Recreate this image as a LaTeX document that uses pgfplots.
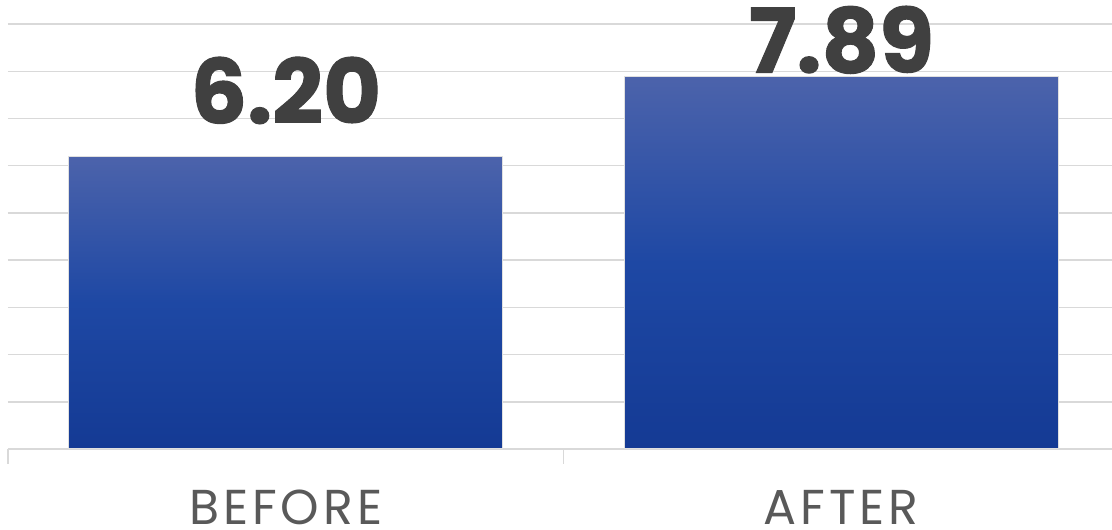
\documentclass[border=0pt]{standalone}
\usepackage{fontspec}
\setmainfont{Poppins}
\newfontfamily\numfont[BoldFeatures={FakeBold=1.2}]{Poppins}
\usepackage{pgfplots}
\pgfplotsset{compat=1.18}
\definecolor{gridc}{HTML}{D9D9D9}
\definecolor{lab}{HTML}{595959}
\definecolor{num}{HTML}{404040}
\definecolor{bartop}{HTML}{4C63AB}
\definecolor{barmid}{HTML}{1E48A4}
\definecolor{barbot}{HTML}{143A94}
\begin{document}
\begin{tikzpicture}
\begin{axis}[
  at={(0,0)}, anchor=south west,
  scale only axis, width=1104pt, height=449pt,
  xmin=-0.5, xmax=1.487, ymin=0, ymax=9.51,
  ybar, bar width=434pt, bar shift=0pt,
  axis x line*=bottom, axis y line*=left,
  y axis line style={draw=none},
  x axis line style={gridc, line width=1.5pt},
  ytick={1,2,...,9}, yticklabels={}, ytick style={draw=none},
  ymajorgrids, major grid style={gridc, line width=1.5pt},
  xtick={0,1}, xticklabels={BEFORE,AFTER},
  major x tick style={draw=none},
  minor xtick={-0.5,0.5,1.5}, minor tick length=15pt, tick align=outside,
  minor x tick style={gridc, line width=1.5pt},
  xticklabel style={anchor=base, inner sep=0pt, yshift=-71pt, font=\fontsize{49}{58}\selectfont\addfontfeature{LetterSpace=8}, text=lab},
  /pgf/number format/fixed, /pgf/number format/fixed zerofill,
  /pgf/number format/precision=2, /pgf/number format/assume math mode=true,
  clip=false,
]
\addplot[draw=black!12, line width=1pt, top color=bartop, bottom color=barbot, middle color=barmid,
  nodes near coords,
  nodes near coords style={anchor=base, yshift=33pt, font=\numfont\bfseries\fontsize{89}{100}\selectfont, text=num}]
  coordinates {(0,6.20)};
\addplot[draw=black!12, line width=1pt, top color=bartop, bottom color=barbot, middle color=barmid,
  nodes near coords,
  nodes near coords style={anchor=base, yshift=4pt, font=\numfont\bfseries\fontsize{89}{100}\selectfont, text=num}]
  coordinates {(1,7.89)};
\end{axis}
\pgfresetboundingbox
\path (-8pt,-81pt) rectangle (1104pt,449pt);
\end{tikzpicture}
\end{document}
